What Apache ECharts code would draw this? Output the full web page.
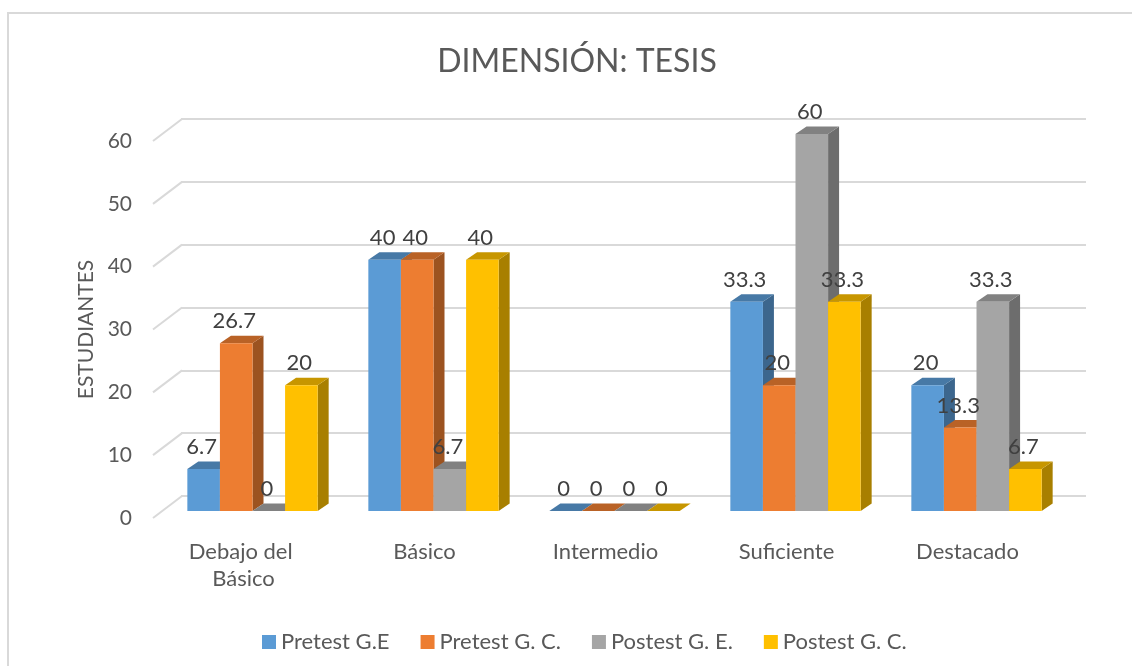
<!DOCTYPE html>
<html>
<head>
<meta charset="utf-8">
<title>Dimensión: Tesis</title>
<script src="https://cdn.jsdelivr.net/npm/echarts@6/dist/echarts.min.js"></script>
<style>
  html, body { margin: 0; padding: 0; background: #fff; }
  #chart { width: 1132px; height: 666px; }
</style>
</head>
<body>
<div id="chart"></div>
<script>
// datos
const categories = ['Debajo del Básico', 'Básico', 'Intermedio', 'Suficiente', 'Destacado'];
const seriesNames = ['Pretest G.E', 'Pretest G. C.', 'Postest G. E.', 'Postest G. C.'];
const pretestGE = [6.7, 40, 0, 33.3, 20];
const pretestGC = [26.7, 40, 0, 20, 13.3];
const postestGE = [0, 6.7, 0, 60, 33.3];
const postestGC = [20, 40, 0, 33.3, 6.7];
const yTicks = [0, 10, 20, 30, 40, 50, 60];

const allValues = [pretestGE, pretestGC, postestGE, postestGC];
const colors = ['#5B9BD5', '#ED7D31', '#A5A5A5', '#FFC000'];
const FONT = 'Lato';

// profundidad de las barras y de la pared (pixeles)
const DX = 11, DY = -7.5;
const WALL_DX = 29, WALL_DY = -22;

function shade(hex, k) {
  const n = parseInt(hex.slice(1), 16);
  const r = Math.round(((n >> 16) & 255) * k);
  const g = Math.round(((n >> 8) & 255) * k);
  const b = Math.round((n & 255) * k);
  return 'rgb(' + r + ',' + g + ',' + b + ')';
}

const chart = echarts.init(document.getElementById('chart'));

function barSeries(idx) {
  const base = colors[idx];
  return {
    type: 'custom',
    name: seriesNames[idx],
    xAxisIndex: 1,
    yAxisIndex: 1,
    itemStyle: { color: base },
    data: allValues[idx].map((v, i) => [i, v]),
    renderItem(params, api) {
      const ci = api.value(0);
      const v = api.value(1);
      const p0 = api.coord([ci, 0]);
      const p1 = api.coord([ci, v]);
      const band = api.size([1, 0])[0];
      const w = band * 0.18;
      const x0 = p0[0] - band * 0.36 + idx * w;
      const x1 = x0 + w;
      const yb = p0[1], yt = p1[1];
      const children = [
        {
          type: 'polygon',
          shape: { points: [[x1, yt], [x1 + DX, yt + DY], [x1 + DX, yb + DY], [x1, yb]] },
          style: { fill: shade(base, 0.66) }
        },
        {
          type: 'polygon',
          shape: { points: [[x0, yt], [x1, yt], [x1 + DX, yt + DY], [x0 + DX, yt + DY]] },
          style: { fill: shade(base, 0.78) }
        }
      ];
      if (yb - yt > 0.5) {
        children.push({
          type: 'rect',
          shape: { x: x0, y: yt, width: w, height: yb - yt },
          style: { fill: base }
        });
      }
      children.push({
        type: 'text',
        z2: 100,
        style: {
          text: String(v),
          x: x0 + w / 2 - 2,
          y: yt + DY - 14.5,
          align: 'center',
          verticalAlign: 'middle',
          fill: '#404040',
          font: '22px ' + FONT
        }
      });
      return { type: 'group', children: children };
    }
  };
}

const option = {
  animation: false,
  backgroundColor: '#fff',
  graphic: [{
    type: 'rect',
    shape: { x: 8, y: 13, width: 1200, height: 720 },
    style: { fill: 'none', stroke: '#d9d9d9', lineWidth: 2 },
    silent: true
  }],
  title: {
    text: 'DIMENSIÓN: TESIS',
    left: 572,
    textAlign: 'center',
    top: 37,
    textStyle: { fontFamily: FONT, fontSize: 32, fontWeight: 'normal', color: '#595959', lineHeight: 40 }
  },
  legend: {
    data: seriesNames,
    left: 257,
    top: 626,
    icon: 'rect',
    itemWidth: 14,
    itemHeight: 14,
    itemGap: 31,
    textStyle: { fontFamily: FONT, fontSize: 22, color: '#595959' }
  },
  grid: [
    { left: 181, right: 46, top: 119, bottom: 170 },   // pared del fondo
    { left: 162, right: 65, top: 134, bottom: 155 },   // plano de las barras
    { left: 153, right: 74, top: 141, bottom: 148 }    // plano frontal
  ],
  xAxis: [
    { gridIndex: 0, type: 'value', min: 0, max: 1, show: false },
    { gridIndex: 1, type: 'category', data: categories, show: false },
    {
      gridIndex: 2, type: 'category', data: categories,
      axisLine: { show: false }, axisTick: { show: false },
      axisLabel: {
        interval: 0, margin: 20, width: 130, overflow: 'break',
        fontFamily: FONT, fontSize: 22, lineHeight: 27, color: '#595959'
      }
    }
  ],
  yAxis: [
    {
      gridIndex: 0, type: 'value', min: 0, max: 60, interval: 10,
      axisLine: { show: false }, axisTick: { show: false }, axisLabel: { show: false },
      splitLine: { lineStyle: { color: '#d9d9d9', width: 2 } }
    },
    { gridIndex: 1, type: 'value', min: 0, max: 60, interval: 10, show: false },
    {
      gridIndex: 2, type: 'value', min: 0, max: 60, interval: 10,
      name: 'ESTUDIANTES', nameLocation: 'middle', nameGap: 54, nameRotate: 90,
      nameTextStyle: { fontFamily: FONT, fontSize: 21, color: '#595959' },
      axisLine: { show: false }, axisTick: { show: false }, splitLine: { show: false },
      axisLabel: { margin: 21, fontFamily: FONT, fontSize: 21, color: '#595959' }
    }
  ],
  series: [
    {
      // lineas inclinadas del piso/pared izquierda
      type: 'custom',
      xAxisIndex: 2,
      yAxisIndex: 2,
      silent: true,
      data: yTicks.map(v => [0, v]),
      renderItem(params, api) {
        const y = api.coord([0, api.value(1)])[1];
        const x = params.coordSys.x;
        return {
          type: 'line',
          shape: { x1: x, y1: y, x2: x + WALL_DX, y2: y + WALL_DY },
          style: { stroke: '#d9d9d9', lineWidth: 2 }
        };
      }
    },
    barSeries(0),
    barSeries(1),
    barSeries(2),
    barSeries(3)
  ]
};

chart.setOption(option);
</script>
</body>
</html>
